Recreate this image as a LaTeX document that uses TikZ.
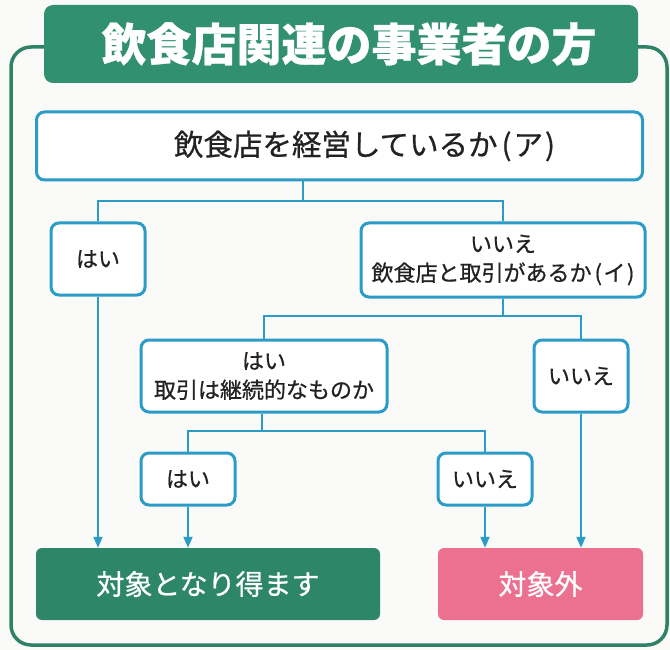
\documentclass[tikz,border=0pt]{standalone}
\usepackage{fontspec}
\setmainfont{Noto Sans CJK JP}[FakeBold=0.7]
\usetikzlibrary{arrows.meta}
\definecolor{bannergreen}{HTML}{30906F}
\definecolor{framegreen}{HTML}{2F8266}
\definecolor{resgreen}{HTML}{2E8669}
\definecolor{respink}{HTML}{EC7191}
\definecolor{boxblue}{HTML}{2A9CC7}
\definecolor{bg}{HTML}{FAFAF8}
\definecolor{txt}{HTML}{222222}
\tikzset{
  qbox/.style={draw=boxblue, line width=3pt, fill=white, rounded corners=8pt,
    inner sep=0pt, align=center, text=txt},
  rbox/.style={rounded corners=6pt, inner sep=0pt, text=white,
    font=\fontsize{28}{32}\selectfont},
  conn/.style={draw=boxblue, line width=2pt},
  arr/.style={conn, -{Triangle[length=11pt,width=9pt]}},
  s22/.style={font=\fontsize{22}{29}\selectfont}
}
\begin{document}
\begin{tikzpicture}[x=1pt,y=-1pt]
\useasboundingbox (0,0) rectangle (670,650);
\fill[bg] (0,0) rectangle (670,650);
% outer frame
\draw[framegreen, line width=3.5pt, rounded corners=20pt] (11,47) rectangle (667,645);
% banner
\node[fill=bannergreen, rounded corners=9pt, minimum width=594pt, minimum height=78pt,
  inner sep=0pt, text=white, font=\fontsize{45}{50}\selectfont\bfseries]
  (ban) at (341,44) {\hspace*{16pt}飲食店関連の事業者の方};
% question boxes
\node[qbox, minimum width=606pt, minimum height=68pt, font=\fontsize{29.5}{34}\selectfont]
  (t) at (339.5,146) {\hspace*{50pt}飲食店を経営しているか\kern4pt(\kern2ptア\kern2pt)};
\node[qbox, s22, minimum width=94pt, minimum height=72pt] (a1) at (98,259) {はい};
\node[qbox, s22, minimum width=284pt, minimum height=74pt] (b1) at (503,260)
  {いいえ\\飲食店と取引があるか\kern3pt(\kern1.5ptイ\kern1.5pt)};
\node[qbox, s22, minimum width=246pt, minimum height=72pt] (c1) at (264,376)
  {はい\\取引は継続的なものか};
\node[qbox, s22, minimum width=94pt, minimum height=72pt] (c2) at (581,376) {いいえ};
\node[qbox, s22, minimum width=94pt, minimum height=52pt] (d1) at (188,479) {はい};
\node[qbox, s22, minimum width=94pt, minimum height=52pt] (d2) at (485,479) {いいえ};
% result boxes
\node[rbox, fill=resgreen, minimum width=344pt, minimum height=72pt] (r1) at (208,584)
  {対象となり得ます};
\node[rbox, fill=respink, minimum width=205pt, minimum height=72pt] (r2) at (540.5,584)
  {対象外};
% junctions
\coordinate (j1) at (303,201);
\coordinate (j2) at (503,316);
\coordinate (j3) at (262,431);
% connectors
\draw[conn] (t.south -| j1) -- (j1);
\draw[conn] (j1) -| (a1.north);
\draw[conn] (j1) -| (b1.north);
\draw[conn] (b1.south) -- (j2);
\draw[conn] (j2) -| (c1.north);
\draw[conn] (j2) -| (c2.north);
\draw[conn] (c1.south -| j3) -- (j3);
\draw[conn] (j3) -| (d1.north);
\draw[conn] (j3) -| (d2.north);
\draw[arr] (a1.south) -- (a1.south |- r1.north);
\draw[arr] (d1.south) -- (d1.south |- r1.north);
\draw[arr] (d2.south) -- (d2.south |- r2.north);
\draw[arr] (c2.south) -- (c2.south |- r2.north);
\end{tikzpicture}
\end{document}
